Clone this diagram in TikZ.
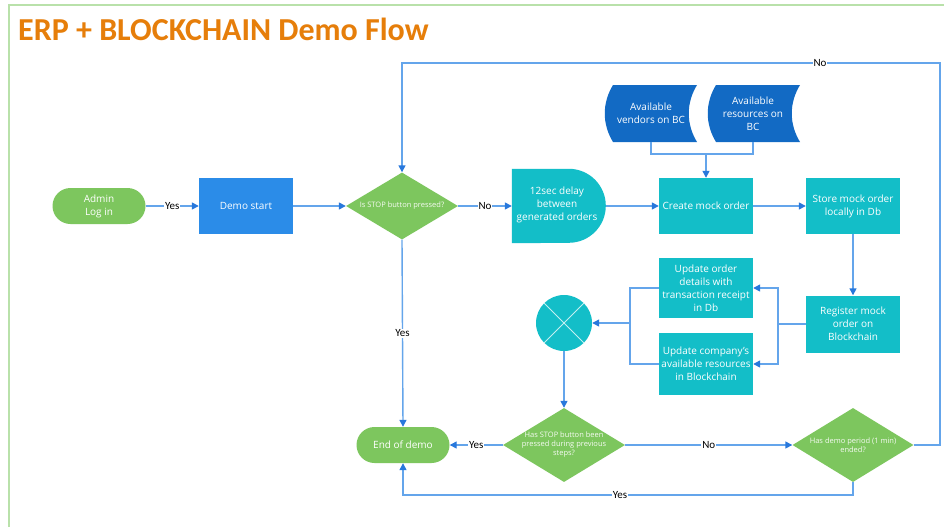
\documentclass[tikz,border=0pt]{standalone}
\usepackage{fontspec}
\setmainfont{Open Sans}
\newfontfamily\lblfam{Carlito}
\newfontfamily\ttlfam{Carlito}
\usetikzlibrary{arrows.meta,shapes.geometric}

\definecolor{framegreen}{RGB}{185,225,170}
\definecolor{titleorange}{RGB}{230,126,10}
\definecolor{nodegreen}{RGB}{125,198,94}
\definecolor{startblue}{RGB}{43,140,232}
\definecolor{tealbox}{RGB}{19,190,200}
\definecolor{datablue}{RGB}{18,106,196}
\definecolor{flowline}{RGB}{100,165,235}
\definecolor{tipblue}{RGB}{40,120,220}

\tikzset{
  boxtext/.style={text=white, align=center, font=\fontsize{10}{13}\selectfont, inner sep=0pt},
  term/.style={boxtext, rectangle, rounded corners=18pt, fill=nodegreen, minimum width=93pt, minimum height=36pt},
  procbox/.style={boxtext, rectangle, fill=#1, minimum width=94pt, minimum height=56pt},
  decision/.style={diamond, fill=nodegreen, inner sep=0pt, minimum width=#1},
  dtext/.style={text=white!92!nodegreen, align=center, font=\fontsize{7.5}{9}\selectfont, inner sep=0pt},
  flow/.style={draw=flowline, line width=1.4pt},
  arr/.style={flow, -{Triangle[length=7pt,width=7pt,color=tipblue]}},
  lbl/.style={fill=white, text=black, font=\lblfam\fontsize{11}{12}\selectfont, inner sep=1pt},
}

\begin{document}
\begin{tikzpicture}[x=1pt,y=-1pt]
\useasboundingbox (0,0) rectangle (944,527);
\fill[white] (0,0) rectangle (944,527);

% page frame and title
\draw[framegreen, line width=2pt] (9,527) -- (9,5) -- (944,5);
\node[anchor=base west, inner sep=0pt, text=titleorange, font=\ttlfam\bfseries\fontsize{32}{32}\selectfont] (title) at (18,41) {ERP + BLOCKCHAIN Demo Flow};

% main row
\node[term] (admin) at (99,206) {Admin\\Log in};
\node[procbox=startblue] (start) at (246,206) {Demo start};
\node[decision=112pt, minimum height=67pt] (d1) at (402,206) {};
\node[dtext] at (d1) {Is STOP button pressed?};

% delay shape
\node[minimum width=94pt, minimum height=74pt, inner sep=0pt] (delay) at (559,206) {};
\fill[tealbox] (delay.north west) -- ++(57,0) arc[start angle=-90, end angle=90, radius=37] -- (delay.south west) -- cycle;
\node[boxtext] at (557,205) {12sec delay\\between\\generated orders};

\node[procbox=tealbox] (create) at (706,206) {Create mock order};
\node[procbox=tealbox] (store) at (853,206) {Store mock order\\locally in Db};
\node[procbox=tealbox, minimum height=57pt] (register) at (853,324) {Register mock\\order on\\Blockchain};
\node[procbox=tealbox, minimum height=60pt] (upd1) at (706,288) {Update order\\details with\\transaction receipt\\in Db};
\node[procbox=tealbox, minimum height=62pt] (upd2) at (706,364) {Update company's\\available resources\\in Blockchain};

% stored data shapes
\fill[datablue] (613,85) -- (697,85) .. controls (686,103) and (686,124) .. (697,142) -- (613,142) .. controls (602,124) and (602,103) .. (613,85) -- cycle;
\fill[datablue] (716,85) -- (800,85) .. controls (789,103) and (789,124) .. (800,142) -- (716,142) .. controls (705,124) and (705,103) .. (716,85) -- cycle;
\node[boxtext, minimum height=57pt] (data1) at (651,113.5) {Available\\vendors on BC};
\node[boxtext, minimum height=57pt] (data2) at (753,113.5) {Available\\resources on\\BC};

% merge circle
\node[circle, fill=tealbox, minimum size=56pt, inner sep=0pt] (merge) at (564,323) {};
\draw[white!75!tealbox, line width=1pt] (merge.north west) -- (merge.south east) (merge.north east) -- (merge.south west);

% decisions and end
\node[decision=122pt, minimum height=74pt] (d2) at (564,445) {};
\node[dtext] at (d2) {Has STOP button been\\pressed during previous\\steps?};
\node[decision=121pt, minimum height=74pt] (d3) at (853,445) {};
\node[dtext] at (d3) {Has demo period (1 min)\\ended?};
\node[term] (end) at (403,445) {End of demo};

% connectors
\draw[arr] (admin) -- node[lbl] {Yes} (start);
\draw[arr] (start) -- (d1);
\draw[arr] (d1.east) -- node[lbl] {No} (delay.west);
\draw[arr] (delay.east) -- (create.west);
\draw[arr] (create) -- (store);
\draw[arr] (store) -- (register);

\coordinate (dj) at (706,154);
\draw[flow] (data1.south) |- (dj) -| (data2.south);
\draw[arr] (dj) -- (create.north);

\coordinate (br) at (778,324);
\draw[flow] (register.west) -- (br);
\draw[arr] (br) |- (upd1.east);
\draw[arr] (br) |- (upd2.east);

\coordinate (bl) at (630,323);
\draw[flow] (upd1.west) -| (bl);
\draw[flow] (upd2.west) -| (bl);
\draw[arr] (bl) -- (merge.east);
\draw[arr] (merge.south) -- (d2.north);

\draw[arr] (d2.west) -- node[lbl] {Yes} (end.east);
\draw[arr] (d2.east) -- node[lbl] {No} (d3.west);
\draw[arr] (d1.south) -- node[lbl] {Yes} (end.north);

\coordinate (loopR) at (940,63);
\draw[arr] (d3.east) -| (loopR) -| (d1.north);
\node[lbl] at (820,63) {No};

\coordinate (loopB) at (853,495);
\draw[arr] (d3.south) -- (loopB) -| (end.south);
\node[lbl] at (620,495) {Yes};
\end{tikzpicture}
\end{document}
